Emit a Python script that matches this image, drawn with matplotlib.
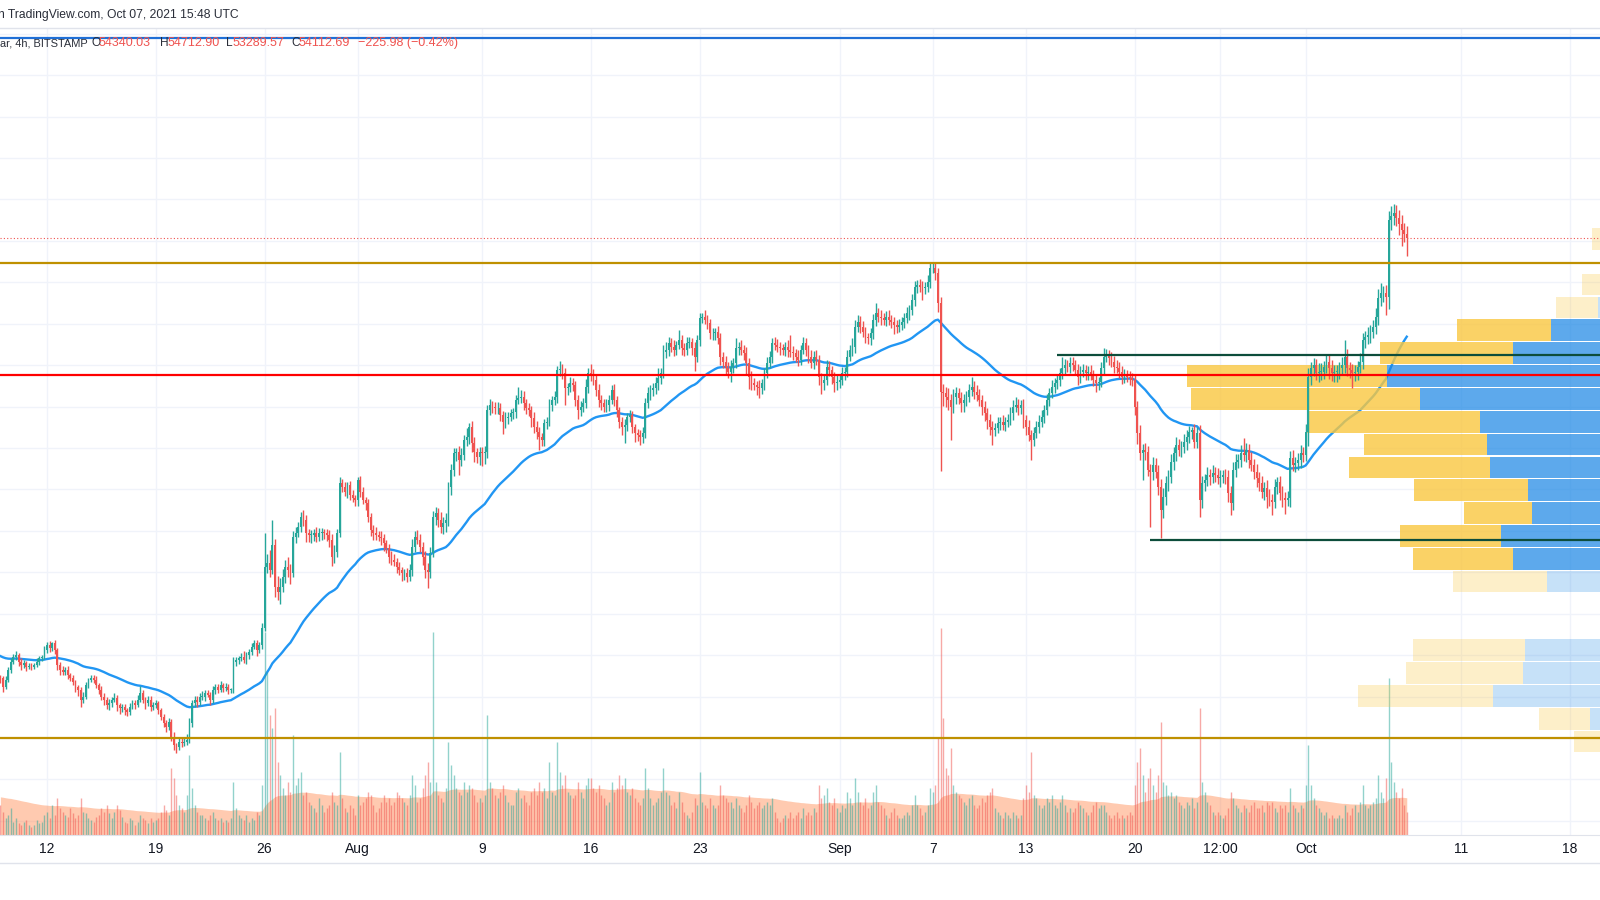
import matplotlib
matplotlib.use("Agg")
import matplotlib.pyplot as plt
import matplotlib.dates as mdates
from matplotlib.lines import Line2D
import numpy as np
import pandas as pd

plt.rcParams['font.family'] = ['Liberation Sans', 'DejaVu Sans']

# BTC/USD 4h, BITSTAMP, 2021-07-09 00:00 .. 2021-10-07 12:00 UTC
first_open = 32900
closes = [
    32880, 32480, 32800, 33280, 33690, 33930,  # Jul 09
    34010, 33690, 33520, 33600, 33440, 33480,
    33440, 33520, 33690, 33850, 33930, 34250,
    34490, 34330, 34570, 34250, 33520, 33280,  # Jul 12
    33200, 33280, 33040, 32880, 32720, 32480,
    32320, 31840, 32000, 32560, 32800, 32880,
    32800, 32560, 32320, 32000, 31840, 31590,
    31670, 31840, 31920, 31590, 31430, 31510,
    31350, 31270, 31510, 31670, 31590, 31840,
    32160, 31840, 31670, 31840, 31510, 31590,
    31670, 31350, 31030, 30710, 30550, 30790,  # Jul 19
    30070, 29660, 29580, 29820, 29740, 29820,
    29900, 30710, 31670, 31840, 31760, 32000,
    32000, 32160, 32080, 31840, 32320, 32480,
    32320, 32560, 32400, 32480, 32320, 32320,
    33690, 33770, 33850, 33930, 33770, 34010,
    34170, 34410, 34570, 34250, 34490, 35300,
    38270, 38430, 38110, 39320, 37310, 37070,  # Jul 26
    37310, 37790, 38270, 38110, 37950, 39720,
    39880, 40200, 40690, 40520, 39880, 39800,
    39800, 39880, 39720, 39880, 39960, 39880,
    39800, 39560, 38760, 38990, 39880, 42290,
    42130, 41890, 42210, 41730, 41570, 41490,
    42450, 41890, 41490, 41330, 40690, 40040,  # Aug 01
    39880, 39800, 39720, 39640, 39400, 39160,
    38760, 38590, 38510, 38270, 38110, 37950,
    37950, 37790, 38110, 39240, 39720, 39560,
    39240, 38760, 38110, 38030, 38920, 40690,
    40850, 40520, 40200, 40360, 40520, 42130,
    42940, 43740, 43820, 43420, 43660, 44390,
    44550, 45030, 44230, 43820, 43580, 43820,
    43740, 43820, 45830, 46080, 45990, 45910,  # Aug 09
    45910, 45590, 45270, 45430, 45510, 45670,
    45750, 46320, 46400, 46480, 46150, 45910,
    45830, 45430, 45030, 44790, 44550, 44390,
    45190, 45270, 46070, 46320, 46480, 47760,
    47760, 47600, 46880, 46960, 47120, 47040,
    46320, 45830, 45990, 46150, 46960, 47600,
    47520, 47280, 46800, 46320, 46150, 45990,  # Aug 16
    46070, 46320, 46800, 46320, 45830, 45270,
    45030, 45110, 45510, 45590, 45030, 44710,
    44630, 44550, 44710, 46150, 46640, 46800,
    46880, 47120, 47360, 47600, 48650, 48730,
    49050, 48890, 48730, 48970, 49210, 48810,
    48730, 49050, 49130, 48810, 48410, 49210,
    50260, 50340, 50180, 50020, 49530, 49530,  # Aug 23
    49610, 49290, 48410, 48170, 47840, 47680,
    47930, 48090, 48810, 48890, 48730, 48570,
    48090, 47440, 47120, 47040, 46960, 46880,
    47120, 47600, 48090, 48410, 49050, 48970,
    48890, 48810, 48730, 48890, 48730, 48650,
    48570, 48410, 48250, 48730, 49050, 48730,
    48410, 48090, 48410, 48250, 47440, 47120,
    47280, 47930, 47760, 47440, 47120, 47200,
    47280, 47600, 47680, 48410, 48730, 48890,  # Sep 01
    49850, 50100, 49850, 49610, 49370, 49290,
    49530, 50180, 50500, 50340, 50260, 50180,
    50340, 50180, 50100, 49940, 49860, 49940,
    50100, 50260, 50500, 50660, 51140, 51790,
    51870, 51790, 51710, 51790, 52030, 52670,
    52670, 52430, 50980, 46720, 46640, 46480,  # Sep 07
    46320, 45990, 46480, 46640, 46400, 46160,
    46320, 46480, 46800, 46960, 46720, 46560,
    46320, 45990, 45670, 45350, 45030, 44870,
    44950, 45190, 45270, 45110, 45270, 45350,
    45670, 45990, 46080, 45910, 46080, 45350,
    45030, 44630, 44390, 44710, 45030, 45270,  # Sep 13
    45510, 45830, 46320, 46640, 46960, 47120,
    47280, 47600, 47850, 48010, 47930, 48090,
    48010, 47770, 47440, 47690, 47770, 47600,
    47690, 47520, 47280, 47120, 47200, 47850,
    48410, 48490, 48330, 48170, 47930, 47850,
    47690, 47440, 47520, 47440, 47360, 47280,
    46000, 44700, 43740, 43900, 43820, 42940,  # Sep 20
    42860, 43180, 42860, 42130, 41010, 41650,
    42290, 42620, 43340, 43740, 44140, 43900,
    44060, 44310, 44550, 44790, 44870, 44310,
    44710, 41490, 42290, 42450, 42700, 42620,
    42780, 42700, 42540, 42620, 42700, 42620,
    41810, 41330, 42940, 43340, 43420, 43740,
    43660, 43900, 43420, 43180, 42860, 42540,
    42290, 41890, 42050, 41650, 41490, 41410,
    42130, 42370, 41810, 41570, 41490, 41570,
    43500, 43180, 43260, 43420, 43740, 43660,
    44790, 47440, 47840, 48000, 47600, 47680,  # Oct 01
    47680, 47920, 48170, 47840, 47600, 47680,
    47680, 47840, 48010, 48410, 47840, 47760,
    47600, 47680, 47920, 48170, 49210, 49370,
    49450, 49610, 49860, 50340, 51220, 51460,
    51460, 51300, 55000, 55200, 55330, 55100,
    54800, 54500, 54340, 54112.69,             # Oct 07
]

# wick length above max(open, close) and below min(open, close), two days per row
wick_up = [
    150, 120, 200, 150, 180, 120, 200, 100, 150, 180, 120, 160,
    120, 100, 150, 130, 100, 200, 150, 200, 80, 150, 100, 150,
    200, 150, 180, 120, 150, 100, 100, 150, 200, 150, 120, 180,
    150, 180, 120, 200, 150, 120, 200, 150, 250, 180, 120, 150,
    150, 120, 200, 180, 150, 250, 350, 150, 120, 200, 180, 150,
    150, 120, 100, 150, 180, 200, 150, 200, 120, 250, 180, 200,
    300, 250, 150, 200, 180, 150, 250, 150, 180, 120, 200, 150,
    150, 200, 120, 180, 150, 100, 200, 150, 120, 180, 250, 150,
    150, 200, 160, 180, 150, 250, 1610, 450, 650, 1200, 300, 500,
    400, 350, 300, 450, 300, 250, 300, 250, 210, 300, 250, 200,
    250, 200, 300, 250, 200, 150, 200, 250, 300, 350, 200, 300,
    200, 250, 150, 200, 250, 150, 150, 200, 250, 150, 200, 150,
    250, 300, 200, 250, 200, 150, 200, 250, 300, 200, 250, 150,
    200, 250, 300, 350, 250, 300, 300, 200, 250, 350, 300, 250,
    300, 250, 400, 300, 350, 250, 300, 250, 200, 300, 350, 250,
    400, 200, 250, 300, 200, 250, 250, 300, 250, 300, 200, 250,
    300, 250, 200, 300, 250, 200, 200, 250, 550, 300, 250, 200,
    250, 200, 300, 250, 200, 150, 200, 250, 300, 200, 250, 200,
    440, 300, 250, 200, 300, 250, 200, 250, 300, 250, 350, 250,
    450, 300, 250, 300, 250, 200, 300, 250, 250, 300, 200, 150,
    250, 300, 200, 250, 200, 150, 200, 250, 300, 250, 300, 250,
    250, 300, 500, 250, 300, 400, 300, 250, 300, 200, 500, 250,
    250, 300, 250, 200, 300, 250, 250, 190, 300, 250, 200, 250,
    200, 300, 250, 200, 250, 300, 300, 250, 500, 250, 300, 250,
    300, 250, 300, 250, 200, 300, 200, 250, 300, 250, 250, 300,
    300, 250, 200, 250, 300, 700, 250, 200, 300, 250, 300, 250,
    250, 300, 250, 300, 250, 200, 250, 300, 250, 200, 250, 300,
    250, 300, 250, 300, 250, 400, 350, 300, 250, 300, 250, 200,
    250, 300, 515, 250, 300, 250, 250, 300, 250, 200, 250, 300,
    200, 250, 300, 250, 300, 250, 250, 300, 250, 200, 300, 250,
    250, 300, 250, 300, 350, 300, 400, 300, 350, 300, 250, 300,
    300, 250, 300, 450, 250, 300, 300, 250, 300, 250, 300, 250,
    250, 300, 250, 300, 250, 300, 300, 350, 400, 300, 250, 300,
    250, 300, 250, 300, 250, 300, 300, 250, 300, 250, 300, 250,
    300, 250, 550, 300, 250, 300, 300, 250, 300, 250, 300, 250,
    250, 300, 250, 300, 250, 300, 400, 300, 250, 300, 250, 300,
    300, 250, 300, 250, 300, 250, 300, 250, 400, 300, 350, 300,
    300, 400, 350, 300, 350, 400, 350, 300, 350, 300, 400, 300,
    300, 350, 300, 250, 160, 300, 300, 400, 350, 300, 400, 300,
    400, 300, 350, 300, 250, 300, 300, 350, 400, 350, 300, 400,
    720, 350, 300, 400, 300, 350, 300, 350, 300, 400, 350, 300,
    350, 250, 300, 350, 300, 350, 350, 400, 300, 350, 400, 300,
    350, 400, 300, 350, 300, 400, 400, 300, 350, 300, 400, 350,
    350, 300, 400, 800, 350, 300, 300, 350, 300, 400, 350, 300,
    400, 350, 300, 400, 450, 500, 350, 400, 450, 500, 430, 400,
    400, 450, 350, 372.90,
]
wick_dn = [
    200, 250, 120, 100, 150, 100, 150, 200, 250, 120, 200, 130,
    150, 120, 100, 180, 120, 100, 150, 180, 120, 200, 250, 220,
    150, 180, 200, 120, 150, 250, 300, 350, 150, 120, 150, 100,
    120, 150, 200, 180, 250, 200, 250, 150, 120, 300, 250, 180,
    250, 200, 150, 120, 180, 100, 120, 150, 250, 120, 200, 150,
    120, 180, 150, 200, 250, 150, 200, 250, 310, 150, 180, 120,
    150, 120, 200, 150, 250, 180, 150, 200, 120, 250, 150, 180,
    150, 120, 200, 150, 200, 150, 150, 200, 180, 120, 150, 200,
    200, 150, 120, 300, 150, 200, 150, 300, 350, 200, 510, 400,
    600, 250, 300, 350, 500, 200, 300, 200, 250, 300, 400, 350,
    400, 300, 250, 200, 300, 250, 300, 350, 450, 300, 250, 200,
    250, 200, 300, 250, 200, 300, 300, 250, 200, 300, 250, 300,
    300, 250, 200, 300, 350, 250, 300, 250, 200, 300, 250, 350,
    300, 250, 200, 300, 250, 200, 250, 400, 400, 800, 300, 200,
    400, 350, 300, 350, 400, 300, 400, 300, 350, 700, 300, 250,
    300, 350, 400, 500, 300, 400, 600, 500, 300, 250, 300, 250,
    250, 300, 600, 300, 250, 200, 250, 300, 200, 250, 300, 250,
    300, 400, 300, 350, 650, 300, 300, 250, 200, 300, 250, 300,
    300, 250, 800, 300, 250, 300, 300, 450, 300, 250, 200, 300,
    300, 250, 300, 350, 300, 250, 250, 300, 200, 300, 350, 300,
    400, 800, 300, 250, 300, 400, 300, 400, 300, 250, 200, 300,
    300, 250, 300, 250, 200, 300, 300, 250, 300, 250, 200, 300,
    300, 250, 200, 300, 700, 250, 300, 250, 200, 300, 250, 300,
    300, 250, 400, 300, 250, 300, 500, 300, 250, 300, 250, 300,
    500, 600, 300, 250, 400, 450, 250, 300, 200, 250, 300, 250,
    250, 300, 250, 300, 350, 250, 300, 250, 300, 250, 200, 300,
    300, 250, 300, 250, 400, 500, 300, 250, 300, 350, 400, 300,
    300, 250, 300, 250, 200, 300, 300, 250, 300, 250, 300, 250,
    300, 250, 300, 250, 300, 250, 300, 250, 300, 450, 300, 250,
    250, 300, 250, 300, 250, 300, 300, 250, 550, 300, 250, 300,
    200, 300, 400, 3830, 600, 500, 500, 1590, 300, 350, 300, 400,
    400, 300, 250, 300, 350, 300, 300, 400, 350, 450, 400, 730,
    300, 250, 300, 250, 300, 250, 250, 300, 250, 300, 250, 400,
    400, 300, 970, 300, 250, 300, 250, 300, 250, 300, 250, 300,
    250, 300, 250, 300, 250, 300, 300, 250, 400, 300, 250, 300,
    300, 250, 300, 400, 300, 250, 300, 250, 300, 250, 300, 250,
    300, 350, 300, 250, 300, 300, 400, 500, 300, 1290, 400, 300,
    2660, 400, 300, 400, 1370, 400, 400, 350, 300, 400, 350, 300,
    350, 300, 400, 300, 350, 300, 300, 800, 400, 350, 300, 400,
    300, 350, 300, 400, 300, 350, 400, 570, 300, 350, 300, 350,
    300, 350, 400, 300, 350, 400, 350, 300, 400, 550, 300, 650,
    300, 350, 300, 400, 700, 300, 400, 300, 350, 300, 400, 350,
    300, 700, 400, 350, 300, 400, 400, 350, 300, 500, 350, 400,
    500, 350, 300, 400, 350, 400, 720, 350, 400, 300, 350, 400,
    350, 400, 300, 350, 400, 350, 400, 880, 600, 500, 450, 400,
    500, 750, 400, 823.12,
]

# volume (BTC), two days per row
volume = [
    900, 700, 500, 600, 800, 400, 500, 350, 300, 400, 450, 300,
    250, 300, 450, 350, 400, 600, 700, 500, 900, 600, 1100, 800,
    700, 600, 550, 800, 650, 500, 600, 1100, 700, 650, 500, 450,
    400, 550, 600, 800, 700, 900, 650, 500, 700, 900, 750, 550,
    400, 350, 500, 450, 300, 400, 600, 500, 450, 350, 500, 400,
    450, 500, 700, 900, 750, 600, 2000, 1700, 1200, 900, 800, 700,
    1200, 2400, 1400, 900, 700, 600, 600, 500, 450, 600, 700, 500,
    450, 500, 400, 450, 400, 500, 1600, 800, 600, 500, 450, 600,
    400, 500, 450, 700, 600, 1500, 6100, 4900, 3600, 3200, 3800, 2200,
    1800, 1400, 1200, 1600, 1300, 3000, 1500, 1700, 1900, 1200, 1300, 1000,
    900, 800, 700, 1100, 900, 700, 800, 900, 1300, 1000, 900, 2500,
    1100, 800, 700, 900, 800, 600, 1200, 900, 1000, 1100, 1300, 1200,
    900, 700, 800, 1000, 1200, 1000, 1100, 900, 1000, 1300, 1200, 1100,
    1000, 900, 1200, 1800, 1500, 1000, 1100, 1400, 1800, 2200, 1600, 6100,
    1600, 1200, 1100, 1000, 1400, 2800, 2100, 1800, 1400, 1300, 1200, 1600,
    1300, 1500, 1400, 1200, 1000, 1100, 1000, 1200, 3600, 1600, 1400, 1200,
    1100, 1300, 1500, 1200, 1000, 900, 900, 1300, 1400, 1100, 1200, 1000,
    900, 1300, 1400, 1200, 1600, 1300, 1400, 1100, 2200, 1300, 1200, 2800,
    1900, 1500, 1800, 1300, 1200, 1100, 1200, 1600, 1300, 1100, 1500, 1700,
    1700, 1400, 1300, 1500, 1200, 1100, 900, 1000, 1600, 1300, 1400, 1800,
    1500, 1700, 1300, 1200, 1400, 1100, 1000, 900, 1100, 2000, 1400, 1100,
    900, 1000, 1100, 1300, 2000, 1300, 1200, 900, 1000, 800, 1300, 1000,
    700, 600, 500, 700, 1100, 900, 1900, 1000, 900, 800, 1100, 900,
    800, 900, 1500, 1200, 1100, 1000, 1000, 800, 1100, 900, 800, 700,
    900, 1200, 1000, 800, 900, 1000, 800, 900, 1000, 900, 1100, 700,
    500, 400, 500, 600, 500, 700, 500, 600, 700, 500, 800, 600,
    700, 600, 800, 700, 1500, 1100, 1200, 1400, 1000, 900, 1100, 800,
    700, 900, 800, 1300, 1100, 900, 1700, 1300, 1000, 900, 1100, 800,
    900, 1300, 1500, 1000, 900, 800, 600, 500, 700, 800, 600, 500,
    500, 600, 700, 600, 900, 1200, 900, 800, 600, 700, 900, 1400,
    1300, 1500, 2900, 6200, 3500, 2000, 1800, 2600, 1500, 1300, 1200, 1100,
    1000, 900, 1100, 1200, 900, 800, 900, 1100, 1000, 1200, 1300, 1400,
    800, 700, 600, 500, 700, 600, 500, 700, 600, 500, 600, 1100,
    1500, 1300, 2500, 1200, 1100, 900, 800, 900, 1100, 1000, 1200, 900,
    800, 1000, 1200, 900, 700, 800, 700, 800, 1000, 900, 800, 700,
    600, 700, 900, 1000, 800, 900, 900, 700, 600, 500, 600, 700,
    500, 600, 500, 600, 700, 600, 1500, 2200, 2600, 1800, 1300, 1700,
    2000, 1500, 1300, 1800, 3400, 1600, 1500, 1200, 1300, 1100, 1200, 1000,
    900, 800, 1000, 900, 1100, 800, 1000, 3800, 1600, 1300, 1000, 900,
    700, 600, 700, 600, 500, 600, 800, 1300, 1100, 900, 800, 700,
    900, 800, 700, 900, 1000, 800, 800, 900, 700, 1000, 900, 1000,
    800, 700, 900, 800, 900, 700, 1400, 900, 800, 700, 900, 800,
    1500, 2700, 1500, 1100, 900, 800, 700, 600, 700, 500, 600, 500,
    500, 600, 500, 900, 700, 600, 800, 900, 700, 1000, 1500, 900,
    800, 900, 1000, 1100, 1800, 1300, 1100, 1700, 4700, 2200, 1600, 1300,
    1100, 1400, 900, 700,
]

ema_len = 50
ema_start = 34000      # EMA value at the left edge of the chart
vol_ma_len = 80
vol_ma_start = 1150

# visible range volume profile (rows from the bottom)
vp_low = 29278
vp_row = 1103
vp_up = [5600, 8750, 20900, 17100, 16900, 3100, 3500, 14100, 18400, 19900, 16000, 16500,
         21250, 21600, 22500, 30000, 34100, 18400, 13600, 7750, 6250, 3100, 5000, 2250]
vp_down = [5150, 6350, 16850, 14650, 14000, 2500, 2750, 11800, 12500, 12600, 8500, 14250,
           17650, 15400, 21600, 28600, 25000, 16600, 11800, 5250, 3500, 1900, 3500, 1500]
vp_value_area = (8, 18)

level_top = 63775
level_resist = 52950
level_mid = 47520
level_support = 30000
range_top = 48490
range_top_from = '2021-09-15'
range_bottom = 39560
range_bottom_from = '2021-09-21'

tick_dates = ['2021-07-12', '2021-07-19', '2021-07-26', '2021-08-01', '2021-08-09', '2021-08-16',
              '2021-08-23', '2021-09-01', '2021-09-07', '2021-09-13', '2021-09-20',
              '2021-09-25 12:00', '2021-10-01', '2021-10-11', '2021-10-18']
tick_labels = ['12', '19', '26', 'Aug', '9', '16', '23', 'Sep', '7', '13', '20', '12:00', 'Oct', '11', '18']

assert len(closes) == len(wick_up) == len(wick_dn) == len(volume) == 544

# ---------------------------------------------------------------------------
W, H = 1600, 900
px_day = 15.54
UP, DOWN = '#26a69a', '#ef5350'

t = pd.date_range('2021-07-09', periods=len(closes), freq='4h')
x = mdates.date2num(t)
c = np.array(closes, float)
o = np.r_[first_open, c[:-1]]
hi = np.maximum(o, c) + np.array(wick_up)
lo = np.minimum(o, c) - np.array(wick_dn)
rising = c >= o
cols = np.where(rising, UP, DOWN)

k = 2 / (ema_len + 1)
ema, m = [], ema_start
for v in c:
    m += k * (v - m)
    ema.append(m)
kv = 2 / (vol_ma_len + 1)
vma, m = [], vol_ma_start
for v in volume:
    m += kv * (v - m)
    vma.append(m)

x_left = mdates.date2num(pd.Timestamp('2021-07-12')) - 47 / px_day
x_right = x_left + W / px_day
y_top, y_bot = 64224, 25320

fig = plt.figure(figsize=(16, 9), dpi=100)
rect = [0, 65 / H, 1, 806 / H]
ax0 = fig.add_axes(rect)
axv = fig.add_axes(rect, sharex=ax0)
axp = fig.add_axes(rect, sharey=ax0)
ax = fig.add_axes(rect, sharex=ax0, sharey=ax0)
for a in (axv, axp, ax):
    a.patch.set_alpha(0)

# grid + EMA
ax0.set_xticks([mdates.date2num(pd.Timestamp(d)) for d in tick_dates])
ax0.set_yticks(np.arange(26000, 64001, 2000))
ax0.grid(True, color='#f0f3fa', lw=1)
ax0.tick_params(length=0, labelbottom=False, labelleft=False)
for s in ax0.spines.values():
    s.set_visible(False)
ax0.plot(x, ema, color='#2196f3', lw=1.7, zorder=3)

# volume
vcols = [(0.15, 0.65, 0.6, 0.5) if r else (0.94, 0.33, 0.31, 0.5) for r in rising]
axv.vlines(x, 0, volume, colors=vcols, lw=1.0)
axv.fill_between(x, 0, vma, color='#ff8a50', alpha=0.45, lw=0)
axv.set_ylim(0, 6000 * 806 / 200)
axv.axis('off')

# volume profile: 125 BTC per pixel, anchored 60 px past the right edge
rows = vp_low + vp_row * (np.arange(len(vp_up)) + 0.5)
in_va = [vp_value_area[0] <= i <= vp_value_area[1] for i in range(len(vp_up))]
blue = [(0.118, 0.533, 0.898, 0.72 if v else 0.25) for v in in_va]
yellow = [(0.976, 0.78, 0.25, 0.8 if v else 0.28) for v in in_va]
axp.barh(rows, vp_up, height=vp_row * 0.95, left=0, color=blue, lw=0)
axp.barh(rows, vp_down, height=vp_row * 0.95, left=vp_up, color=yellow, lw=0)
axp.set_xlim(1660 * 125, 60 * 125)
axp.axis('off')

# candles
ax.vlines(x, lo, hi, colors=cols, lw=1.0, zorder=4)
ax.bar(x, np.maximum(np.abs(c - o), 40), width=0.7 / 6, bottom=np.minimum(o, c),
       color=cols, lw=0, zorder=4)

# drawn levels
ax.axhline(level_top, color='#1f6fd6', lw=1.6, zorder=6)
ax.axhline(level_resist, color='#bf9000', lw=1.6, zorder=6)
ax.axhline(level_mid, color='#ff0000', lw=1.6, zorder=6)
ax.axhline(level_support, color='#bf9000', lw=1.6, zorder=6)
ax.hlines(range_top, mdates.date2num(pd.Timestamp(range_top_from)), x_right + 5,
          color='#0d4d3b', lw=1.6, zorder=6)
ax.hlines(range_bottom, mdates.date2num(pd.Timestamp(range_bottom_from)), x_right + 5,
          color='#0d4d3b', lw=1.6, zorder=6)
ax.axhline(c[-1], color='#ef5350', lw=0.8, ls=(0, (1, 2)), zorder=5)

ax.set_xticklabels(tick_labels)
ax.tick_params(axis='x', length=0, pad=5, labelsize=10, labelcolor='#131722')
ax.tick_params(axis='y', length=0, labelleft=False)
for name, s in ax.spines.items():
    s.set_visible(name == 'bottom')
ax.spines['bottom'].set_color('#e0e3eb')

ax0.set_xlim(x_left, x_right)
ax0.set_ylim(y_bot, y_top)

# header / legend
fig.text(-0.0015, 1 - 15 / H, 'n TradingView.com, Oct 07, 2021 15:48 UTC',
         fontsize=8.7, color='#2a2e39', va='center')
legend = [('ar, 4h, BITSTAMP', 0, '#2a2e39', 7.9), ('O', 91, '#2a2e39', 8.6),
          ('54340.03', 99, DOWN, 9), ('H', 160, '#2a2e39', 8.6), ('54712.90', 168, DOWN, 9),
          ('L', 226, '#2a2e39', 8.6), ('53289.57', 233, DOWN, 9), ('C', 291, '#2a2e39', 8.6),
          ('54112.69', 299, DOWN, 9), ('\u2212225.98 (\u22120.42%)', 358, DOWN, 9)]
for txt, px, col, fs in legend:
    fig.text(px / W, 1 - 43 / H, txt, fontsize=fs, color=col, va='center')
fig.add_artist(Line2D([0, 1], [1 - 28 / H] * 2, color='#e0e3eb', lw=1))
fig.add_artist(Line2D([0, 1], [1 - 863 / H] * 2, color='#e0e3eb', lw=1))

fig.savefig('out.png', dpi=100, facecolor='white')
